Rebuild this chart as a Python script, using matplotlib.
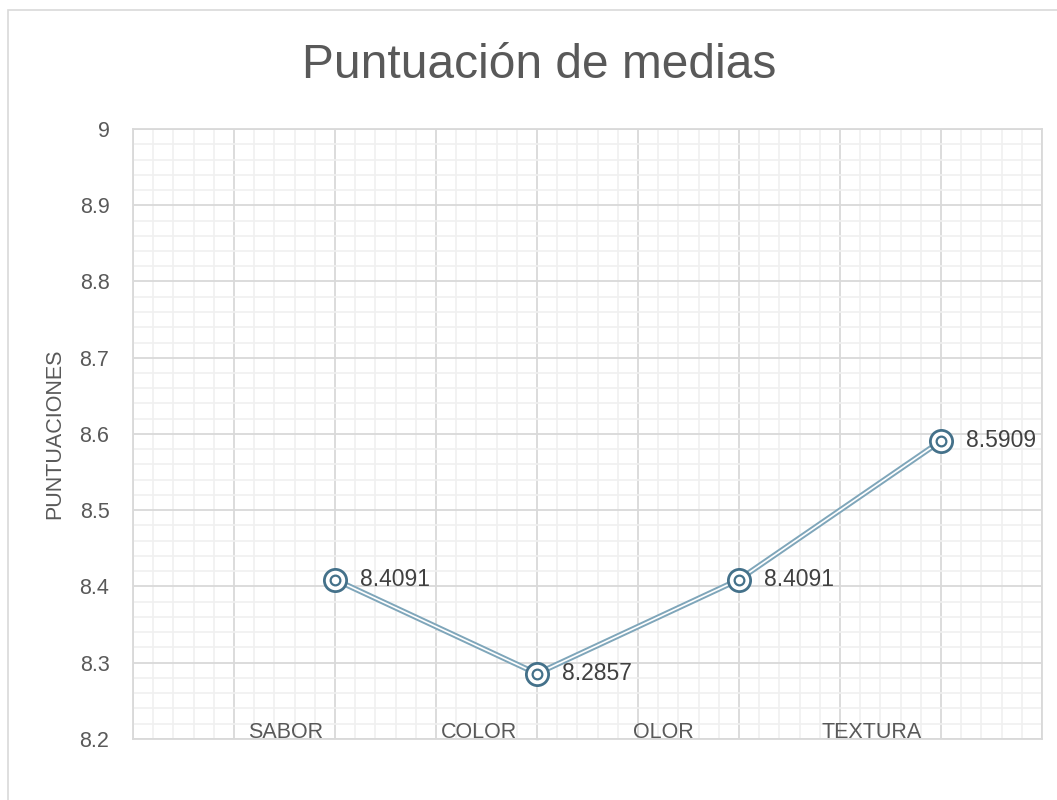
import matplotlib.pyplot as plt
from matplotlib.ticker import MultipleLocator
from matplotlib.patches import Rectangle

categorias = ["SABOR", "COLOR", "OLOR", "TEXTURA"]
medias = [8.4091, 8.2857, 8.4091, 8.5909]
etiquetas = ["8.4091", "8.2857", "8.4091", "8.5909"]

# posiciones en el eje (la rejilla mayor tiene 9 divisiones)
x_puntos = [2, 4, 6, 8]
x_etiquetas = [1.51, 3.43, 5.25, 7.31]

GRIS = "#595959"
LINEA = "#7fa6ba"
MARCA = "#44718a"

plt.rcParams["font.family"] = ["Liberation Sans", "DejaVu Sans"]

fig = plt.figure(figsize=(10.57, 8), dpi=100)
ax = fig.add_axes([133 / 1057, 1 - 739 / 800, 909 / 1057, 610 / 800])

# marco exterior del gráfico
fig.patches.append(Rectangle((8 / 1057, -0.02), 1.1, 1 - 10 / 800 + 0.02,
                             transform=fig.transFigure, fill=False,
                             edgecolor="#d9d9d9", linewidth=1.2))

ax.set_xlim(0, 9)
ax.set_ylim(8.2, 9.0)
ax.xaxis.set_major_locator(MultipleLocator(1))
ax.xaxis.set_minor_locator(MultipleLocator(0.2))
ax.yaxis.set_major_locator(MultipleLocator(0.1))
ax.yaxis.set_minor_locator(MultipleLocator(0.02))
ax.grid(which="major", color="#d9d9d9", linewidth=1.3)
ax.grid(which="minor", color="#f0f0f0", linewidth=1.2)
ax.set_axisbelow(True)
for s in ax.spines.values():
    s.set_color("#d9d9d9")
    s.set_linewidth(1.3)
ax.tick_params(which="both", length=0)
ax.tick_params(axis="x", labelbottom=False)
ax.tick_params(axis="y", labelsize=15.5, colors=GRIS, pad=17)
ax.set_yticks([8.2, 8.3, 8.4, 8.5, 8.6, 8.7, 8.8, 8.9, 9.0])
ax.set_yticklabels(["8.2", "8.3", "8.4", "8.5", "8.6", "8.7", "8.8", "8.9", "9"])

# línea doble
ax.plot(x_puntos, medias, color=LINEA, linewidth=4, solid_capstyle="round", zorder=3)
ax.plot(x_puntos, medias, color="white", linewidth=1.2, zorder=4)
ax.plot(x_puntos, medias, linestyle="none", marker="o", markersize=16,
        markerfacecolor="white", markeredgecolor=MARCA, markeredgewidth=2.0, zorder=5)
ax.plot(x_puntos, medias, linestyle="none", marker="o", markersize=7,
        markerfacecolor="white", markeredgecolor=MARCA, markeredgewidth=1.6, zorder=6)

for x, y, t in zip(x_puntos, medias, etiquetas):
    ax.annotate(t, (x, y), xytext=(18, 0), textcoords="offset points",
                ha="left", va="center", fontsize=16.5, color="#404040", zorder=7)

for x, c in zip(x_etiquetas, categorias):
    ax.annotate(c, (x, 8.2), xytext=(0, 1), textcoords="offset points",
                ha="center", va="baseline", fontsize=15.5, color=GRIS)

ax.set_ylabel("PUNTUACIONES", fontsize=15.5, color=GRIS, labelpad=10)
fig.text(539 / 1057, 1 - 66 / 800, "Puntuación de medias", ha="center",
         va="center", fontsize=34.5, color=GRIS)

fig.savefig("out.png", dpi=100)
